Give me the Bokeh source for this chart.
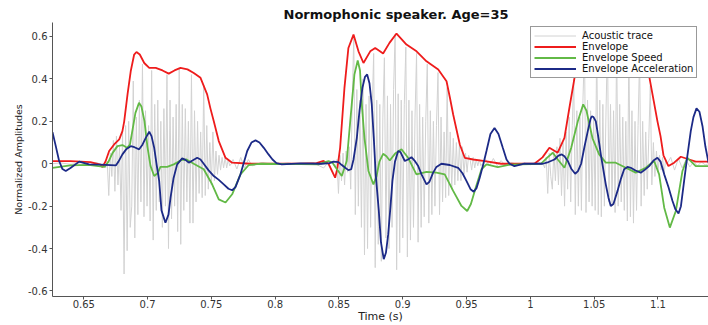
import numpy as np
from bokeh.plotting import figure
from bokeh.models import Range1d, FixedTicker, Legend, LegendItem
from bokeh.embed import file_html
from bokeh.resources import INLINE

# ---------------- data ----------------
title_text = "Normophonic speaker. Age=35"
x_ticks = [0.65, 0.7, 0.75, 0.8, 0.85, 0.9, 0.95, 1.0, 1.05, 1.1]
x_tick_labels = ["0.65", "0.7", "0.75", "0.8", "0.85", "0.9", "0.95", "1", "1.05", "1.1"]
y_ticks = [-0.6, -0.4, -0.2, 0.0, 0.2, 0.4, 0.6]
y_tick_labels = ["-0.6", "-0.4", "-0.2", "0", "0.2", "0.4", "0.6"]
series_names = ["Acoustic trace", "Envelope", "Envelope Speed", "Envelope Acceleration"]

# acoustic trace: quiet stretches (time, amplitude) and voiced stretches
# sampled every 1.2 ms
sample_step = 0.0012
quiet0_t = [0.6255, 0.632, 0.640, 0.648, 0.655, 0.660, 0.664]
quiet0_a = [0.0, 0.004, -0.003, 0.005, -0.004, 0.006, -0.005]
syl1_start = 0.666
syl1_a = [0.00, -0.02, 0.01, -0.15, 0.05, -0.06, 0.11, -0.13, 0.13, -0.10,
          0.08, -0.22, 0.15, -0.52, 0.18, -0.41, 0.20, -0.30, -0.20, 0.39,
          -0.35, 0.22, -0.24, 0.30, -0.18, 0.47, -0.25, 0.25, -0.20, 0.18,
          -0.27, 0.44, -0.36, 0.28, -0.22, 0.30, -0.18, 0.20, -0.30, 0.26,
          -0.20, 0.42, -0.40, 0.30, -0.26, 0.22, -0.20, 0.28, -0.32, 0.45,
          -0.38, 0.28, -0.22, 0.26, -0.18, 0.20, -0.28, 0.42, -0.28, 0.25,
          -0.18, 0.20, -0.14, 0.15, -0.16, 0.37, -0.15, 0.18, -0.12, 0.10,
          -0.10, 0.15, -0.08, 0.06, -0.05, 0.04, -0.03, 0.03, -0.02, 0.03,
          -0.02, 0.02, -0.01, 0.00]
quiet1_t = [0.767, 0.770, 0.773, 0.776, 0.779, 0.782, 0.790, 0.800, 0.810, 0.820, 0.830, 0.838, 0.842]
quiet1_a = [0.02, -0.025, 0.03, -0.02, 0.02, -0.01, 0.005, -0.004, 0.004, -0.003, 0.004, -0.02, 0.01]
syl2_start = 0.846
syl2_a = [0.00, -0.02, 0.02, -0.14, 0.04, -0.08, 0.05, -0.10, 0.06, -0.04,
          0.08, -0.12, 0.30, 0.60, -0.24, 0.35, -0.20, 0.30, -0.30, 0.40,
          -0.43, 0.28, -0.40, 0.32, -0.30, 0.25, 0.52, -0.49, 0.30, -0.38,
          0.28, -0.46, 0.22, 0.50, -0.35, 0.32, -0.40, 0.28, -0.30, 0.35,
          0.61, -0.50, 0.33, -0.42, 0.30, -0.35, 0.28, 0.55, -0.44, 0.30,
          -0.36, 0.25, -0.30, 0.22, 0.52, -0.37, 0.28, -0.30, 0.22, -0.25,
          0.20, 0.47, -0.28, 0.25, -0.24, 0.20, -0.20, 0.18, 0.43, -0.24,
          0.22, -0.18, 0.15, -0.16, 0.36, -0.15, 0.15, -0.12, 0.12, -0.10,
          0.10, -0.08, 0.09, -0.08, 0.08, -0.05, 0.05, -0.04, 0.04, 0.02,
          -0.03, 0.03, -0.02, 0.02, -0.01, 0.02, -0.01, 0.00]
quiet2_t = [0.9650, 0.9680, 0.9710, 0.9740, 0.9770, 0.9800, 0.9850, 0.9900, 0.9950, 1.0000, 1.0050]
quiet2_a = [0.02, -0.01, 0.025, -0.01, 0.015, -0.005, 0.006, -0.004, 0.004, -0.005, 0.01]
syl3_start = 1.010
syl3_a = [0.00, -0.02, 0.03, -0.14, 0.05, -0.06, -0.12, 0.06, -0.08, 0.08,
          -0.10, 0.12, -0.15, 0.10, -0.20, 0.15, -0.12, 0.22, -0.18, 0.18,
          0.40, -0.24, 0.25, -0.20, 0.22, -0.22, 0.30, 0.55, -0.23, 0.30,
          -0.18, 0.25, -0.20, 0.22, -0.22, 0.58, -0.24, 0.30, -0.25, 0.28,
          -0.20, 0.22, 0.58, -0.18, 0.28, -0.20, 0.25, -0.23, 0.57, -0.20,
          0.28, -0.18, 0.22, -0.22, 0.20, -0.27, 0.55, -0.25, 0.25, -0.28,
          0.20, -0.22, 0.18, 0.50, -0.20, 0.20, -0.15, 0.15, -0.12, 0.12,
          0.37, -0.10, 0.10, -0.06, 0.06, -0.04, 0.04, -0.03, 0.03, -0.05,
          0.02, 0.00]
quiet3_t = [1.1100, 1.1130, 1.1160, 1.1190, 1.1220, 1.1250, 1.1280, 1.1310, 1.1340, 1.1370, 1.1396]
quiet3_a = [0.03, -0.03, 0.025, -0.02, 0.02, -0.015, 0.01, -0.01, 0.008, -0.005, 0.0]

# envelope (red)
env_t = [0.6255, 0.6396, 0.6553, 0.6631, 0.6647, 0.6672, 0.6699, 0.6738, 0.6778, 0.6803,
         0.6817, 0.6843, 0.6868, 0.6895, 0.6913, 0.6939, 0.6974, 0.7013, 0.7064, 0.7117,
         0.7166, 0.7211, 0.7258, 0.7313, 0.7362, 0.7415, 0.7467, 0.7493, 0.7519, 0.7558,
         0.7611, 0.7663, 0.7807, 0.8198, 0.8324, 0.8379, 0.8418, 0.8470, 0.8488, 0.8509,
         0.8543, 0.8574, 0.8614, 0.8653, 0.8692, 0.8745, 0.8784, 0.8810, 0.8846, 0.8896,
         0.8951, 0.9029, 0.9108, 0.9186, 0.9278, 0.9343, 0.9370, 0.9395, 0.9447, 0.9486,
         0.9552, 0.9630, 0.9771, 1.0032, 1.0095, 1.0149, 1.0214, 1.0267, 1.0306, 1.0346,
         1.0372, 1.0432, 1.0549, 1.0706, 1.0847, 1.0926, 1.0967, 1.0996, 1.1020, 1.1043,
         1.1082, 1.1127, 1.1179, 1.1245, 1.1296, 1.1396]
env_y = [0.012, 0.012, 0.008, -0.004, -0.016, 0.013, 0.06, 0.091, 0.115, 0.154,
         0.2, 0.327, 0.436, 0.515, 0.527, 0.515, 0.475, 0.452, 0.452, 0.44,
         0.425, 0.44, 0.452, 0.445, 0.428, 0.405, 0.327, 0.26, 0.2, 0.107,
         0.028, 0.005, 0.0, 0.0, 0.003, 0.013, 0.0, -0.066, -0.02, 0.075,
         0.358, 0.546, 0.609, 0.53, 0.475, 0.53, 0.546, 0.535, 0.52, 0.57,
         0.614, 0.562, 0.53, 0.483, 0.444, 0.389, 0.31, 0.232, 0.091, 0.028,
         0.02, 0.013, 0.0, 0.0, 0.03, 0.075, 0.052, 0.122, 0.264, 0.405,
         0.46, 0.55, 0.58, 0.57, 0.52, 0.43, 0.295, 0.2, 0.13, 0.04,
         -0.011, 0.005, 0.033, 0.02, 0.01, 0.01]

# envelope speed (green)
spd_t = [0.6255, 0.6396, 0.6537, 0.6631, 0.6662, 0.6694, 0.6725, 0.6764, 0.6803, 0.6839,
         0.6862, 0.6882, 0.6905, 0.6933, 0.6952, 0.6976, 0.6999, 0.7023, 0.7052, 0.7078,
         0.7101, 0.7154, 0.7205, 0.7266, 0.7305, 0.7362, 0.7440, 0.7506, 0.7558, 0.7611,
         0.7663, 0.7728, 0.7793, 0.7885, 0.8198, 0.8339, 0.8379, 0.8418, 0.8449, 0.8483,
         0.8522, 0.8561, 0.8600, 0.8621, 0.8647, 0.8665, 0.8679, 0.8700, 0.8731, 0.8770,
         0.8794, 0.8817, 0.8846, 0.8872, 0.8898, 0.8943, 0.8990, 0.9042, 0.9107, 0.9186,
         0.9264, 0.9329, 0.9395, 0.9460, 0.9505, 0.9534, 0.9564, 0.9617, 0.9656, 0.9745,
         0.9844, 1.0085, 1.0134, 1.0176, 1.0215, 1.0267, 1.0320, 1.0372, 1.0414, 1.0440,
         1.0463, 1.0487, 1.0539, 1.0591, 1.0669, 1.0748, 1.0826, 1.0904, 1.0970, 1.1009,
         1.1049, 1.1093, 1.1140, 1.1192, 1.1231, 1.1296, 1.1396]
spd_y = [-0.019, -0.008, -0.005, -0.012, -0.015, 0.01, 0.05, 0.083, 0.088, 0.075,
         0.09, 0.16, 0.24, 0.287, 0.27, 0.2, 0.08, -0.01, -0.058, -0.045,
         -0.015, -0.015, -0.003, 0.018, 0.02, 0.0, -0.026, -0.097, -0.168, -0.183,
         -0.144, -0.05, -0.006, 0.0, -0.002, -0.003, 0.005, 0.013, 0.005, -0.025,
         -0.058, 0.013, 0.28, 0.42, 0.487, 0.44, 0.28, 0.12, -0.034, -0.097,
         -0.06, 0.01, 0.047, 0.035, 0.015, 0.05, 0.068, 0.028, -0.05, -0.038,
         -0.042, -0.05, -0.128, -0.199, -0.223, -0.19, -0.128, -0.026, -0.003, -0.016,
         -0.004, 0.0, 0.03, 0.052, 0.02, -0.019, 0.075, 0.2, 0.28, 0.25,
         0.185, 0.12, 0.044, 0.005, 0.005, -0.019, -0.042, -0.019, 0.013, -0.05,
         -0.207, -0.301, -0.223, -0.034, 0.028, -0.011, -0.011]

# envelope acceleration (blue)
acc_t = [0.6255, 0.6278, 0.6307, 0.6333, 0.6359, 0.6396, 0.6464, 0.6542, 0.6631, 0.6751,
         0.6772, 0.6803, 0.6835, 0.6868, 0.6897, 0.6934, 0.6960, 0.6986, 0.7013, 0.7031,
         0.7052, 0.7070, 0.7091, 0.7109, 0.7140, 0.7164, 0.7180, 0.7203, 0.7232, 0.7271,
         0.7297, 0.7323, 0.7352, 0.7389, 0.7415, 0.7440, 0.7477, 0.7519, 0.7556, 0.7597,
         0.7634, 0.7663, 0.7689, 0.7728, 0.7752, 0.7781, 0.7814, 0.7846, 0.7877, 0.7911,
         0.7948, 0.7979, 0.8010, 0.8052, 0.8198, 0.8363, 0.8426, 0.8457, 0.8496, 0.8520,
         0.8549, 0.8574, 0.8596, 0.8614, 0.8640, 0.8661, 0.8684, 0.8704, 0.8721, 0.8739,
         0.8757, 0.8773, 0.8788, 0.8812, 0.8829, 0.8851, 0.8868, 0.8886, 0.8904, 0.8919,
         0.8939, 0.8964, 0.8982, 0.9016, 0.9041, 0.9068, 0.9092, 0.9121, 0.9147, 0.9186,
         0.9209, 0.9238, 0.9264, 0.9303, 0.9368, 0.9434, 0.9468, 0.9499, 0.9531, 0.9556,
         0.9578, 0.9603, 0.9632, 0.9656, 0.9687, 0.9719, 0.9750, 0.9784, 0.9813, 0.9836,
         0.9875, 0.9954, 1.0097, 1.0142, 1.0189, 1.0220, 1.0246, 1.0267, 1.0293, 1.0322,
         1.0351, 1.0373, 1.0398, 1.0424, 1.0450, 1.0471, 1.0481, 1.0495, 1.0513, 1.0534,
         1.0552, 1.0591, 1.0612, 1.0630, 1.0651, 1.0683, 1.0710, 1.0735, 1.0761, 1.0787,
         1.0824, 1.0865, 1.0894, 1.0931, 1.0965, 1.0996, 1.1020, 1.1049, 1.1082, 1.1114,
         1.1137, 1.1161, 1.1180, 1.1205, 1.1231, 1.1257, 1.1278, 1.1302, 1.1325, 1.1349,
         1.1372, 1.1396]
acc_y = [0.149, 0.09, 0.013, -0.025, -0.034, -0.02, 0.01, -0.003, -0.004, -0.008,
         0.01, 0.044, 0.07, 0.083, 0.078, 0.068, 0.09, 0.122, 0.151, 0.13,
         0.075, 0.0, -0.081, -0.22, -0.278, -0.24, -0.16, -0.07, -0.003, 0.025,
         0.018, 0.005, 0.015, 0.028, 0.02, 0.0, -0.03, -0.058, -0.075, -0.097,
         -0.118, -0.125, -0.11, -0.05, 0.0, 0.06, 0.1, 0.11, 0.1, 0.075,
         0.044, 0.02, 0.003, -0.003, 0.002, 0.0, 0.003, 0.01, 0.008, -0.005,
         -0.019, -0.03, -0.026, 0.02, 0.122, 0.25, 0.358, 0.41, 0.421, 0.38,
         0.28, 0.12, -0.05, -0.22, -0.37, -0.45, -0.42, -0.332, -0.2, -0.081,
         0.01, 0.06, 0.055, 0.013, 0.02, 0.031, 0.015, -0.011, -0.05, -0.097,
         -0.085, -0.042, -0.015, 0.0, -0.006, -0.019, -0.045, -0.081, -0.12, -0.132,
         -0.115, -0.066, 0.0, 0.06, 0.14, 0.169, 0.14, 0.075, 0.02, 0.0,
         -0.011, 0.0, 0.0, 0.008, 0.02, 0.038, 0.044, 0.035, 0.013, -0.025,
         -0.047, -0.035, 0.0, 0.08, 0.154, 0.21, 0.224, 0.22, 0.2, 0.12,
         0.044, -0.097, -0.16, -0.199, -0.19, -0.128, -0.07, -0.026, -0.015, -0.019,
         -0.032, -0.042, -0.03, -0.011, 0.015, 0.028, 0.01, -0.05, -0.11, -0.176,
         -0.215, -0.235, -0.2, -0.081, 0.04, 0.154, 0.22, 0.261, 0.245, 0.177,
         0.08, 0.005]

# ---------------- assemble the acoustic trace ----------------
def voiced(start, amps):
    return list(start + sample_step * np.arange(len(amps))), list(amps)

s1_t, s1_a = voiced(syl1_start, syl1_a)
s2_t, s2_a = voiced(syl2_start, syl2_a)
s3_t, s3_a = voiced(syl3_start, syl3_a)
trace_t = quiet0_t + s1_t + quiet1_t + s2_t + quiet2_t + s3_t + quiet3_t
trace_a = quiet0_a + s1_a + quiet1_a + s2_a + quiet2_a + s3_a + quiet3_a

# ---------------- figure ----------------
FONT = "DejaVu Sans"
p = figure(width=708, height=325, output_backend="svg", toolbar_location=None,
           x_range=Range1d(0.6255, 1.1396), y_range=Range1d(-0.626, 0.666),
           min_border_left=52, min_border_right=0, min_border_top=22, min_border_bottom=29)
p.background_fill_color = "white"
p.border_fill_color = "white"
p.outline_line_color = None
p.xgrid.visible = False
p.ygrid.visible = False

p.title.text = title_text
p.title.align = "left"
p.title.offset = 231
p.title.text_font = FONT
p.title.text_font_size = "13px"
p.title.text_font_style = "bold"
p.title.text_color = "#111111"
p.title.standoff = 2

for ax in (p.xaxis[0], p.yaxis[0]):
    ax.axis_line_color = "#555555"
    ax.major_tick_line_color = "#555555"
    ax.minor_tick_line_color = None
    ax.major_tick_out = 3
    ax.major_tick_in = 0
    ax.major_label_text_font = FONT
    ax.major_label_text_font_size = "10px"
    ax.major_label_text_color = "#333333"
    ax.axis_label_text_font = FONT
    ax.axis_label_text_font_style = "normal"
    ax.axis_label_text_color = "#222222"

p.xaxis.major_label_standoff = 0
p.xaxis.axis_label_standoff = -1
p.yaxis.major_label_standoff = 2
p.yaxis.axis_label_standoff = 1

p.xaxis.ticker = FixedTicker(ticks=x_ticks)
p.xaxis.major_label_overrides = dict(zip(x_ticks, x_tick_labels))
p.yaxis.ticker = FixedTicker(ticks=y_ticks)
p.yaxis.major_label_overrides = dict(zip(y_ticks, y_tick_labels))
p.xaxis.axis_label = "Time (s)"
p.xaxis.axis_label_text_font_size = "11px"
p.yaxis.axis_label = "Normalized Amplitudes"
p.yaxis.axis_label_text_font_size = "9.5px"

r_trace = p.line(trace_t, trace_a, line_color="#d2d2d2", line_width=1)
r_env = p.line(env_t, env_y, line_color="#ee1c1c", line_width=1.8)
r_spd = p.line(spd_t, spd_y, line_color="#62b946", line_width=1.8)
r_acc = p.line(acc_t, acc_y, line_color="#1c2a87", line_width=1.8)

legend = Legend(items=[LegendItem(label=series_names[0], renderers=[r_trace]),
                       LegendItem(label=series_names[1], renderers=[r_env]),
                       LegendItem(label=series_names[2], renderers=[r_spd]),
                       LegendItem(label=series_names[3], renderers=[r_acc])],
                location=(478, 218))
legend.label_text_font = FONT
legend.label_text_font_size = "10px"
legend.label_text_line_height = 0.85
legend.label_text_color = "#111111"
legend.label_height = 9
legend.label_standoff = 6
legend.glyph_width = 42
legend.glyph_height = 9
legend.spacing = 0
legend.padding = 3
legend.margin = 0
legend.border_line_color = "#333333"
legend.border_line_width = 1
legend.background_fill_color = "white"
legend.background_fill_alpha = 1.0
p.add_layout(legend)

open("out.html", "w").write(file_html(p, INLINE))
